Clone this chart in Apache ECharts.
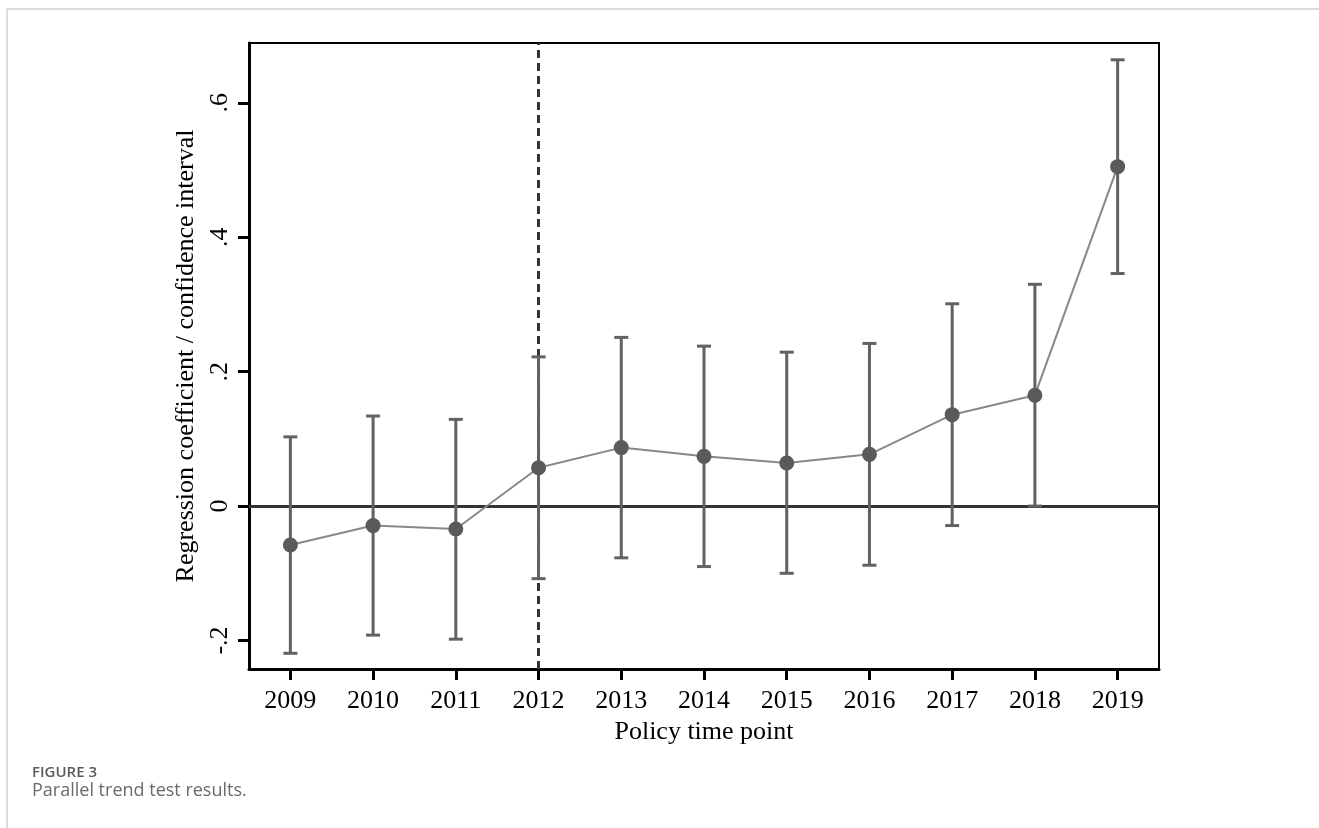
<!DOCTYPE html>
<html>
<head>
<meta charset="utf-8">
<script src="https://cdn.jsdelivr.net/npm/echarts@6/dist/echarts.min.js"></script>
<style>
html,body{margin:0;padding:0;background:#fff;}
#chart{width:1319px;height:828px;}
</style>
</head>
<body>
<div id="chart"></div>
<script>
var years = ['2009','2010','2011','2012','2013','2014','2015','2016','2017','2018','2019'];
var coef  = [-0.058, -0.029, -0.034, 0.057, 0.087, 0.074, 0.064, 0.077, 0.136, 0.165, 0.505];
var lower = [-0.219, -0.192, -0.198, -0.108, -0.077, -0.090, -0.100, -0.088, -0.029, 0.000, 0.346];
var upper = [0.103, 0.134, 0.129, 0.222, 0.251, 0.238, 0.229, 0.242, 0.301, 0.330, 0.664];
var yTicks = [-0.2, 0, 0.2, 0.4, 0.6];
var yTickLabels = ['-.2', '0', '.2', '.4', '.6'];
var policyYear = '2012';
var xTitle = 'Policy time point';
var yTitle = 'Regression coefficient / confidence interval';
var figLabel = 'FIGURE 3';
var figCaption = 'Parallel trend test results.';

var serif = '"Liberation Serif", "Times New Roman", serif';
var chart = echarts.init(document.getElementById('chart'), null, {renderer: 'canvas'});

var errData = years.map(function (y, i) { return [i, lower[i], upper[i]]; });

var option = {
  animation: false,
  backgroundColor: '#fff',
  grid: {
    left: 249, right: 160, top: 43, bottom: 159,
    show: true, borderColor: '#000', borderWidth: 2, backgroundColor: 'transparent'
  },
  xAxis: {
    type: 'category',
    data: years,
    boundaryGap: true,
    name: xTitle,
    nameLocation: 'middle',
    nameGap: 44,
    nameTextStyle: {fontFamily: serif, fontSize: 26, color: '#000'},
    axisLine: {show: true, onZero: false, lineStyle: {color: '#000', width: 3}},
    axisTick: {show: true, alignWithLabel: true, length: 11, lineStyle: {color: '#000', width: 3}},
    axisLabel: {fontFamily: serif, fontSize: 26, color: '#000', margin: 19},
    splitLine: {show: false}
  },
  yAxis: {
    type: 'value',
    min: -0.2424,
    max: 0.689,
    name: yTitle,
    nameLocation: 'middle',
    nameGap: 42,
    nameRotate: 90,
    nameTextStyle: {fontFamily: serif, fontSize: 26, color: '#000'},
    axisLine: {show: true, onZero: false, lineStyle: {color: '#000', width: 3}},
    axisTick: {show: true, length: 11, lineStyle: {color: '#000', width: 3}, customValues: yTicks},
    axisLabel: {
      fontFamily: serif, fontSize: 26, color: '#000', rotate: 90, margin: 16,
      customValues: yTicks,
      formatter: function (v) {
        for (var i = 0; i < yTicks.length; i++) {
          if (Math.abs(v - yTicks[i]) < 1e-9) return yTickLabels[i];
        }
        return '';
      }
    },
    splitLine: {show: false}
  },
  graphic: [
    {type: 'line', shape: {x1: 7, y1: 9, x2: 1319, y2: 9}, style: {stroke: '#cfcfcf', lineWidth: 1.5}, silent: true},
    {type: 'line', shape: {x1: 7, y1: 9, x2: 7, y2: 828}, style: {stroke: '#cfcfcf', lineWidth: 1.5}, silent: true},
    {type: 'text', left: 32, top: 765, style: {text: figLabel, font: '600 15px "Open Sans", "Noto Sans", sans-serif', fill: '#5a5a5a'}},
    {type: 'text', left: 32, top: 782, style: {text: figCaption, font: '18px "Open Sans", "Noto Sans", sans-serif', fill: '#6a6a6a'}}
  ],
  series: [
    {
      type: 'custom',
      z: 2,
      data: errData,
      renderItem: function (params, api) {
        var xi = api.value(0);
        var lo = api.coord([xi, api.value(1)]);
        var hi = api.coord([xi, api.value(2)]);
        var cap = 7;
        var st = {stroke: '#626262', lineWidth: 3};
        return {
          type: 'group',
          children: [
            {type: 'line', shape: {x1: lo[0], y1: lo[1], x2: hi[0], y2: hi[1]}, style: st},
            {type: 'line', shape: {x1: lo[0] - cap, y1: lo[1], x2: lo[0] + cap, y2: lo[1]}, style: st},
            {type: 'line', shape: {x1: hi[0] - cap, y1: hi[1], x2: hi[0] + cap, y2: hi[1]}, style: st}
          ]
        };
      }
    },
    {
      type: 'line',
      z: 3,
      data: coef,
      symbol: 'circle',
      symbolSize: 15,
      itemStyle: {color: '#5a5a5a'},
      lineStyle: {color: '#888888', width: 2},
      markLine: {
        silent: true,
        symbol: ['none', 'none'],
        label: {show: false},
        z: 1,
        data: [
          {yAxis: 0, lineStyle: {color: '#333', width: 3, type: 'solid'}},
          {xAxis: policyYear, lineStyle: {color: '#333', width: 3, type: [8, 5]}}
        ]
      }
    }
  ]
};
chart.setOption(option);
</script>
</body>
</html>
